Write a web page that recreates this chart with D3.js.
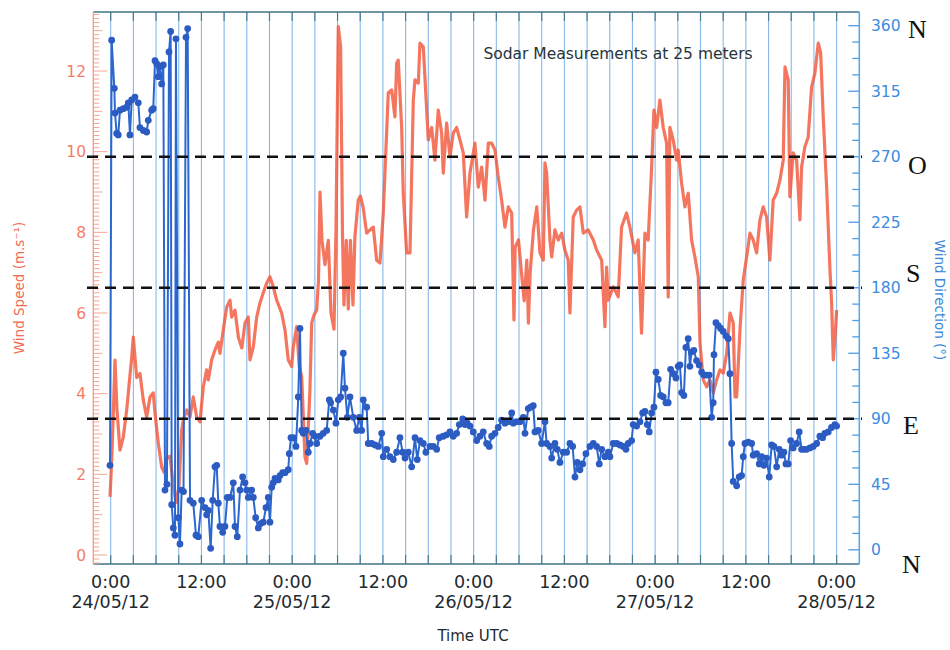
<!DOCTYPE html>
<html>
<head>
<meta charset="utf-8">
<script src="https://cdn.jsdelivr.net/npm/d3@7/dist/d3.min.js"></script>
<style>
  html, body { margin: 0; padding: 0; background: #fff; }
  svg { display: block; font-family: "DejaVu Sans", Verdana, sans-serif; }
</style>
</head>
<body>
<svg id="chart" width="950" height="650"></svg>
<script>
// ---------------- DATA ----------------
// hours since 24/05/12 00:00 UTC
const speedHours = [-0.09,0.17,0.57,0.83,1.23,1.67,2.12,2.42,2.78,2.99,3.44,3.87,4.31,4.76,5.2,5.63,5.86,6.29,6.74,7.05,7.44,7.84,8.24,8.63,9.03,9.39,9.6,10.05,10.49,10.92,11.37,11.81,12.25,12.69,12.91,13.36,13.79,14.23,14.45,14.89,15.34,15.78,16.0,16.44,16.89,17.34,17.76,18.2,18.42,18.86,19.31,19.74,20.18,20.63,21.06,21.5,21.95,22.61,23.05,23.48,23.93,24.15,24.59,24.94,25.26,25.69,25.92,26.35,26.58,26.88,27.24,27.48,27.68,27.94,28.34,28.78,29.13,29.53,29.79,30.1,30.41,30.65,30.85,31.16,31.42,31.71,32.04,32.3,32.74,33.03,33.4,33.85,34.29,34.73,35.17,35.61,36.05,36.71,37.16,37.59,37.82,38.03,38.48,38.69,39.14,39.58,40.02,40.24,40.68,40.9,41.34,41.79,42.0,42.45,42.88,43.32,43.77,43.98,44.43,44.87,45.3,45.75,46.19,46.63,47.07,47.51,48.17,48.61,49.06,49.5,49.94,50.38,50.82,51.25,51.7,52.14,52.58,53.03,53.33,53.49,53.93,54.38,54.68,55.03,55.24,55.47,55.91,56.35,56.77,57.21,57.43,57.65,58.09,58.32,58.75,59.19,59.64,60.07,60.51,60.73,61.17,61.62,62.06,62.5,63.15,63.82,64.26,64.93,65.36,65.58,65.8,66.46,67.12,67.56,68.22,68.66,69.32,69.76,70.2,70.65,71.08,71.54,71.84,72.2,72.63,73.07,73.52,73.73,73.95,74.39,74.84,75.05,75.5,75.94,76.38,76.82,77.26,77.71,77.93,78.37,78.81,79.25,79.69,80.13,80.58,81.02,81.46,81.9,82.33,82.56,82.78,83.22,83.65,84.1,84.54,84.97,85.42,85.86,86.29,86.74,87.18,87.61,88.07,88.51,88.94,89.17,89.6,89.82,90.26,90.71,91.15,91.37,91.81,92.24,92.69,93.13,93.57,93.89,94.23,94.68,95.12,95.34,95.47,95.56,95.79,96.0];
const speedValues = [1.44,2.5,4.83,3.6,2.6,2.93,3.6,4.2,4.9,5.4,4.4,4.5,3.84,3.42,3.92,4.02,3.52,2.78,2.18,2.05,2.4,2.45,1.8,1.3,1.7,3.1,3.35,3.6,3.42,3.92,3.42,3.3,4.17,4.59,4.34,4.84,5.08,5.28,5.0,5.58,6.15,6.32,5.9,6.07,5.4,5.13,5.75,5.9,4.84,5.16,5.9,6.25,6.5,6.74,6.9,6.65,6.32,6.0,5.58,4.84,4.67,5.16,5.66,4.67,4.42,2.43,2.27,4.1,5.75,5.95,6.07,6.8,9.0,7.8,7.2,7.8,6.0,5.6,8.0,13.1,12.6,8.0,6.2,7.8,6.1,7.8,6.2,7.9,8.8,8.9,8.6,7.98,8.06,8.13,7.31,7.24,8.48,11.46,11.53,10.86,12.2,12.27,10.6,8.97,7.49,7.49,11.28,11.78,11.7,12.69,12.6,11.03,10.29,10.6,9.79,11.03,10.46,9.47,10.71,9.87,10.46,10.6,10.29,9.97,8.38,9.47,10.21,9.12,9.62,8.8,10.21,10.21,10.04,9.37,8.8,8.13,8.63,8.48,5.83,7.64,7.81,6.89,6.3,7.31,5.75,6.99,8.06,8.63,7.49,7.31,9.72,9.47,7.81,7.39,8.06,7.81,7.98,7.56,7.31,6.0,8.38,8.55,8.63,7.98,8.06,7.81,7.56,7.31,5.66,7.14,6.32,6.65,6.4,8.13,8.48,8.13,7.49,7.81,5.5,7.98,7.81,9.62,11.03,10.6,11.28,10.6,10.21,6.4,10.6,10.29,9.79,10.04,9.22,8.63,8.97,7.81,7.39,6.89,5.25,4.34,4.17,4.34,4.02,4.34,4.59,4.51,5.0,6.0,5.75,3.92,3.92,5.58,6.82,7.39,7.98,7.81,7.49,8.31,8.63,8.38,7.31,8.8,8.97,9.3,9.79,12.1,11.78,8.88,9.97,9.79,8.31,9.62,10.12,10.36,11.6,11.95,12.69,12.45,10.86,9.12,7.07,6.25,5.4,4.84,5.4,6.07];

const dirHours = [-0.09,0.13,0.48,0.57,0.79,1.0,1.23,1.67,2.12,2.33,2.55,2.78,3.21,3.65,3.87,4.31,4.76,4.97,5.42,5.63,5.86,6.08,6.29,6.52,6.74,6.96,7.18,7.44,7.71,7.93,8.07,8.28,8.5,8.63,8.94,9.16,9.39,9.63,9.96,10.18,10.49,10.92,11.28,11.58,12.03,12.47,12.69,12.91,13.22,13.49,13.79,14.02,14.23,14.45,14.81,15.11,15.42,15.78,16.21,16.44,16.74,17.1,17.45,17.76,17.98,18.2,18.64,18.86,19.17,19.52,19.83,20.18,20.54,20.84,21.06,21.29,21.5,21.73,22.16,22.39,22.74,23.05,23.48,23.62,23.84,24.15,24.5,24.81,25.03,25.26,25.47,25.83,26.13,26.35,26.71,27.02,27.24,27.68,28.11,28.56,28.91,29.09,29.44,29.79,30.1,30.41,30.76,30.98,31.29,31.64,32.08,32.53,32.87,33.19,33.4,33.85,34.06,34.51,34.95,35.39,35.84,36.05,36.5,36.93,37.37,37.82,38.25,38.61,38.92,39.35,39.8,40.24,40.54,40.9,41.34,41.69,42.22,42.66,43.11,43.45,43.98,44.43,44.87,45.3,45.75,46.1,46.55,46.85,47.15,47.51,47.95,48.4,48.83,49.27,49.72,50.06,50.38,50.82,51.25,51.7,52.14,52.58,53.03,53.24,53.69,54.12,54.56,54.79,55.22,55.54,55.88,56.11,56.54,56.99,57.43,57.65,58.09,58.32,58.75,59.06,59.41,59.85,60.3,60.73,61.09,61.4,61.7,62.06,62.41,62.85,63.38,63.82,64.26,64.61,64.93,65.36,65.8,66.02,66.46,66.91,67.35,67.78,68.14,68.44,68.89,69.1,69.55,69.99,70.35,70.65,70.96,71.22,71.54,71.84,72.11,72.41,72.73,73.07,73.43,73.73,74.05,74.4,74.75,75.05,75.28,75.5,75.8,76.07,76.37,76.6,76.82,77.12,77.48,77.82,78.15,78.45,78.81,79.15,79.47,79.68,79.78,80.04,80.35,80.66,81.0,81.36,81.67,81.89,82.12,82.33,82.78,83.12,83.44,83.65,83.88,84.31,84.76,84.97,85.42,85.77,86.08,86.39,86.74,87.09,87.41,87.71,88.07,88.41,88.73,89.03,89.3,89.6,89.92,90.26,90.71,91.05,91.37,91.68,92.03,92.47,92.91,93.36,93.79,94.15,94.45,94.89,95.33,95.77,96.0];
const dirValues = [58,350,317,300,286,285,302,303,304,307,285,309,311,307,290,288,287,295,302,303,336,334,325,332,320,333,41,45,342,356,31,15,10,351,22,4,41,40,352,358,34,32,10,9,34,29,24,27,1,34,57,58,32,16,12,16,36,36,46,16,9,41,50,46,41,36,41,36,22,15,18,19,29,36,19,43,46,49,48,51,53,53,55,66,77,77,71,105,152,82,80,82,67,73,80,78,73,78,80,82,103,101,96,87,103,105,135,111,91,105,91,82,91,82,103,98,73,73,72,71,80,64,69,64,62,67,77,67,63,67,57,77,62,75,73,67,71,71,69,77,78,79,81,78,80,86,90,86,87,85,81,75,78,81,73,71,78,80,84,89,87,88,94,87,88,88,91,80,97,98,99,81,82,73,88,73,71,63,73,69,60,67,67,73,71,50,60,55,59,66,71,73,71,59,69,64,67,64,73,73,72,71,69,73,75,86,85,88,94,95,86,81,94,98,122,117,106,105,101,101,124,121,118,126,127,108,106,139,145,126,136,137,130,127,122,120,120,120,91,101,134,156,154,152,150,147,145,121,73,47,44,50,51,64,73,74,73,65,66,59,64,58,63,50,72,71,57,69,65,67,59,59,75,70,73,81,69,69,69,70,71,73,78,77,80,81,84,86,85];

const speedTicks = [0, 2, 4, 6, 8, 10, 12];
const dirTicks = [0, 45, 90, 135, 180, 225, 270, 315, 360];
const refDegrees = [270, 180, 90];
const compassDegrees = [360, 270, 180, 90, 0];
const compassLetters = ["N", "O", "S", "E", "N"];
const xLabelHours = [0, 12, 24, 36, 48, 60, 72, 84, 96];
const xLabelTimes = ["0:00", "12:00", "0:00", "12:00", "0:00", "12:00", "0:00", "12:00", "0:00"];
const xLabelDates = ["24/05/12", "", "25/05/12", "", "26/05/12", "", "27/05/12", "", "28/05/12"];
const titleText = "Sodar Measurements at 25 meters";
const xTitle = "Time UTC";
const ySpeedTitle = "Wind Speed (m.s\u207B\u00B9)";
const yDirTitle = "Wind Direction (\u00B0)";

// ---------------- LAYOUT ----------------
const baseTime = Date.UTC(2012, 4, 24, 0, 0);
const hourMs = 3600e3;
const toDate = h => new Date(baseTime + h * hourMs);
const plot = { left: 93.3, right: 859.3, top: 12, bottom: 564 };
const compassOffsets = [3, 8, -15, 6, 14];
const compassX = [908, 908, 906, 903, 902];

const svg = d3.select("#chart");

const x = d3.scaleUtc()
  .domain([new Date(Date.UTC(2012, 4, 23, 21, 42)), new Date(Date.UTC(2012, 4, 28, 3, 0))])
  .range([plot.left, plot.right]);
const ySpeed = d3.scaleLinear().domain([0, 12]).range([555, 71]);
const yDir = d3.scaleLinear().domain([0, 360]).range([549.8, 25.7]);

// vertical grid lines every 3 hours
const gridTimes = d3.utcHour.every(3).range(toDate(0), toDate(97));
svg.append("g").selectAll("line").data(gridTimes).join("line")
  .attr("x1", d => x(d)).attr("x2", d => x(d))
  .attr("y1", plot.top).attr("y2", plot.bottom)
  .attr("stroke", "#86b9ea").attr("stroke-width", 1.1);

// x ticks (bottom & top)
const xt = svg.append("g");
xt.selectAll("line.b").data(gridTimes).join("line").attr("class", "b")
  .attr("x1", d => x(d)).attr("x2", d => x(d))
  .attr("y1", plot.bottom).attr("y2", plot.bottom - 9)
  .attr("stroke", "#4b7d8c").attr("stroke-width", 1.2);
xt.selectAll("line.t").data(gridTimes).join("line").attr("class", "t")
  .attr("x1", d => x(d)).attr("x2", d => x(d))
  .attr("y1", plot.top).attr("y2", plot.top + 9)
  .attr("stroke", "#4b7d8c").attr("stroke-width", 1.2);

// frame: top & bottom lines
svg.append("line").attr("x1", plot.left).attr("x2", plot.right)
  .attr("y1", plot.top).attr("y2", plot.top)
  .attr("stroke", "#3f7584").attr("stroke-width", 1.6);
svg.append("line").attr("x1", plot.left).attr("x2", plot.right)
  .attr("y1", plot.bottom).attr("y2", plot.bottom)
  .attr("stroke", "#3f7584").attr("stroke-width", 1.6);

// left axis (speed) - red
const leftAxis = svg.append("g");
const speedMinor = d3.range(-2, 135).map(i => i / 10);
leftAxis.selectAll("line").data(speedMinor).join("line")
  .attr("x1", plot.left).attr("x2", d => plot.left + (Math.abs(d % 2) < 1e-6 ? 14 : (Math.abs(d % 1) < 1e-6 ? 9 : 6)))
  .attr("y1", d => ySpeed(d)).attr("y2", d => ySpeed(d))
  .attr("stroke", "#f5a593").attr("stroke-width", 1);
leftAxis.append("line").attr("x1", plot.left).attr("x2", plot.left)
  .attr("y1", plot.top).attr("y2", plot.bottom)
  .attr("stroke", "#f3a090").attr("stroke-width", 1.4);
leftAxis.selectAll("text").data(speedTicks).join("text")
  .attr("x", 86).attr("y", d => ySpeed(d)).attr("dy", "0.36em")
  .attr("text-anchor", "end").attr("font-size", 15.5)
  .attr("fill", "#f37e66").text(d => d);

// right axis (direction) - blue
const rightAxis = svg.append("g");
const dirMinor = d3.range(0, 33).map(i => i * 11.25);
rightAxis.selectAll("line").data(dirMinor).join("line")
  .attr("x1", plot.right).attr("x2", (d, i) => plot.right - (i % 4 === 0 ? 11 : 7))
  .attr("y1", d => yDir(d)).attr("y2", d => yDir(d))
  .attr("stroke", "#4d9be3").attr("stroke-width", 1.3);
rightAxis.append("line").attr("x1", plot.right).attr("x2", plot.right)
  .attr("y1", plot.top).attr("y2", plot.bottom)
  .attr("stroke", "#63a6e6").attr("stroke-width", 1.6);
rightAxis.selectAll("text").data(dirTicks).join("text")
  .attr("x", 871).attr("y", d => yDir(d)).attr("dy", "0.36em")
  .attr("text-anchor", "start").attr("font-size", 15.5)
  .attr("fill", "#3a8ce0").text(d => d);

// speed line (red)
const speedData = speedHours.map((h, i) => ({ t: toDate(h), v: speedValues[i] }));
svg.append("path").datum(speedData)
  .attr("d", d3.line().x(d => x(d.t)).y(d => ySpeed(d.v)))
  .attr("fill", "none").attr("stroke", "#f1583c").attr("stroke-opacity", 0.82)
  .attr("stroke-width", 3.2).attr("stroke-linejoin", "round");

// direction line + dots (blue)
const dirData = dirHours.map((h, i) => ({ t: toDate(h), v: dirValues[i] }));
svg.append("path").datum(dirData)
  .attr("d", d3.line().x(d => x(d.t)).y(d => yDir(d.v)))
  .attr("fill", "none").attr("stroke", "#2b67cf").attr("stroke-width", 2);
svg.append("g").selectAll("circle").data(dirData).join("circle")
  .attr("cx", d => x(d.t)).attr("cy", d => yDir(d.v)).attr("r", 3.4)
  .attr("fill", "#2c5cc2");

// dashed reference lines
svg.append("g").selectAll("line").data(refDegrees).join("line")
  .attr("x1", 87).attr("x2", 862)
  .attr("y1", d => yDir(d)).attr("y2", d => yDir(d))
  .attr("stroke", "#111").attr("stroke-width", 2.4).attr("stroke-dasharray", "11,7");

// compass letters
svg.append("g").selectAll("text").data(compassDegrees).join("text")
  .attr("x", (d, i) => compassX[i])
  .attr("y", (d, i) => yDir(d) + compassOffsets[i]).attr("dy", "0.35em")
  .style("font-family", "'Liberation Serif', 'DejaVu Serif', serif")
  .attr("font-size", 26).attr("fill", "#111")
  .text((d, i) => compassLetters[i]);

// x labels
const xl = svg.append("g");
xl.selectAll("text.time").data(xLabelHours).join("text").attr("class", "time")
  .attr("x", d => x(toDate(d))).attr("y", 588)
  .attr("text-anchor", "middle").attr("font-size", 17.5).attr("fill", "#1e2a30")
  .text((d, i) => xLabelTimes[i]);
xl.selectAll("text.date").data(xLabelHours).join("text").attr("class", "date")
  .attr("x", d => x(toDate(d))).attr("y", 608)
  .attr("text-anchor", "middle").attr("font-size", 17.5).attr("fill", "#1e2a30")
  .text((d, i) => xLabelDates[i]);

// titles
svg.append("text").attr("x", 618).attr("y", 59).attr("text-anchor", "middle")
  .attr("font-size", 15.5).attr("fill", "#26343a").text(titleText);
svg.append("text").attr("x", 473).attr("y", 641).attr("text-anchor", "middle")
  .attr("font-size", 15).attr("fill", "#1e2a30").text(xTitle);
svg.append("text").attr("transform", "translate(24,288) rotate(-90)")
  .attr("text-anchor", "middle").attr("font-size", 13.5).attr("fill", "#f26a50")
  .text(ySpeedTitle);
svg.append("text").attr("transform", "translate(935,300) rotate(90)")
  .attr("text-anchor", "middle").attr("font-size", 13.5).attr("fill", "#3a86d8")
  .text(yDirTitle);
</script>
</body>
</html>
